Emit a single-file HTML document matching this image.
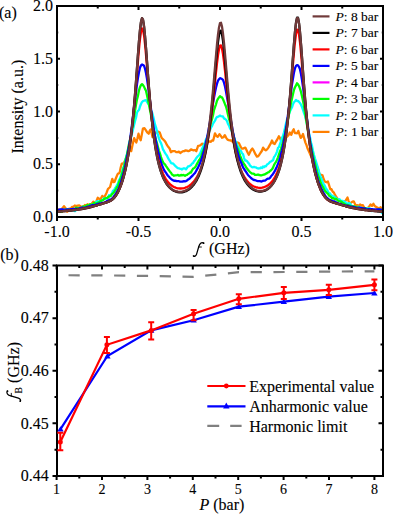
<!DOCTYPE html>
<html><head><meta charset="utf-8"><style>html,body{margin:0;padding:0;background:#fff;width:393px;height:514px;overflow:hidden;position:relative} svg text{stroke:#000;stroke-width:0.12px}</style></head>
<body>
<svg width="393" height="514" viewBox="0 0 393 514" style="position:absolute;left:0;top:0;font-family:'Liberation Serif', serif">
<rect width="393" height="514" fill="#fff"/>
<defs><clipPath id="clipa"><rect x="57.0" y="6.0" width="326.0" height="211.0"/></clipPath></defs><g clip-path="url(#clipa)"><path d="M57.0 209.9 L58.2 209.3 L59.5 210.5 L60.8 209.8 L62.1 208.6 L64.0 206.1 L65.9 208.6 L67.2 211.8 L69.1 208.6 L70.6 208.7 L72.0 207.0 L73.5 206.7 L74.8 205.5 L76.1 206.1 L77.7 205.7 L79.3 205.4 L80.8 206.4 L82.4 206.7 L83.7 207.0 L85.0 205.0 L86.3 205.4 L87.5 204.2 L88.8 204.8 L90.1 205.0 L91.4 204.2 L93.3 201.6 L95.2 203.5 L96.5 201.0 L97.7 197.8 L99.6 199.1 L100.9 198.6 L102.2 195.9 L103.5 196.9 L104.7 196.5 L106.6 192.7 L107.9 189.1 L109.0 188.0 L110.1 187.0 L111.2 182.8 L112.3 178.9 L113.4 182.2 L114.5 181.9 L116.0 178.0 L117.4 174.6 L118.5 173.3 L119.6 173.1 L120.7 167.6 L121.8 163.6 L123.2 163.6 L124.5 161.5 L125.7 159.3 L127.0 157.0 L128.0 153.8 L129.0 151.1 L130.1 151.1 L131.2 151.2 L132.7 144.0 L134.2 138.1 L135.2 140.5 L136.3 142.5 L137.4 138.6 L138.5 133.7 L139.6 137.8 L140.7 140.3 L141.8 134.6 L142.9 128.6 L144.4 128.1 L145.8 130.1 L147.2 132.4 L148.7 133.7 L149.8 130.6 L150.9 129.4 L152.5 137.0 L153.8 135.4 L155.0 134.0 L156.5 131.8 L158.0 131.6 L159.8 132.5 L161.6 137.8 L162.9 139.2 L164.3 140.5 L165.6 142.2 L166.9 144.9 L168.2 146.8 L169.6 148.5 L170.9 152.2 L172.3 151.2 L173.6 151.2 L174.9 151.2 L176.2 152.2 L177.6 152.1 L178.9 151.6 L180.3 153.0 L181.7 151.9 L183.0 151.2 L184.3 151.2 L185.6 150.3 L186.9 150.7 L188.3 151.2 L189.7 150.6 L191.0 149.4 L192.3 149.9 L193.6 150.3 L194.9 150.0 L196.3 151.2 L198.1 145.8 L199.4 145.7 L200.8 144.9 L202.2 143.7 L203.6 144.9 L205.0 143.0 L206.2 142.2 L207.3 142.7 L208.5 141.8 L209.7 141.4 L210.9 141.8 L212.0 140.4 L213.2 140.5 L215.0 133.4 L216.3 135.8 L217.7 136.9 L219.5 134.2 L220.8 135.9 L222.1 137.8 L223.4 137.3 L224.8 135.1 L226.2 137.8 L227.5 139.6 L228.8 140.1 L230.1 140.5 L231.3 140.3 L232.6 141.8 L233.8 142.0 L235.0 142.0 L236.3 143.5 L237.7 142.5 L239.0 143.2 L240.3 146.2 L241.7 148.5 L242.9 148.6 L244.1 148.1 L245.3 147.6 L246.5 150.1 L247.6 152.5 L248.8 154.7 L250.0 152.2 L251.2 149.9 L252.4 148.5 L253.9 150.9 L255.4 154.2 L256.9 156.5 L258.1 156.4 L259.2 154.9 L260.4 153.0 L261.8 151.0 L263.1 147.6 L264.5 149.5 L265.8 150.3 L267.1 149.4 L268.4 147.6 L269.6 145.4 L270.8 143.4 L272.0 140.5 L273.4 143.5 L274.7 144.0 L276.0 141.5 L277.3 139.5 L278.9 136.3 L280.0 138.2 L281.2 141.0 L282.6 140.9 L284.0 138.0 L285.2 137.6 L286.3 137.5 L287.5 136.3 L288.6 135.0 L289.8 132.5 L291.3 134.8 L292.5 131.3 L293.7 129.3 L294.9 133.0 L296.0 133.2 L297.1 133.3 L298.3 130.9 L299.5 134.5 L300.7 137.9 L301.9 136.5 L303.0 134.0 L304.2 138.4 L305.4 142.6 L306.5 145.1 L307.7 148.8 L309.1 151.8 L310.6 155.2 L312.0 158.0 L313.4 161.3 L314.9 163.6 L316.4 165.7 L317.8 168.2 L319.0 172.7 L320.1 175.3 L321.3 174.8 L322.5 175.3 L323.6 179.0 L324.8 181.5 L326.4 182.3 L327.9 181.5 L329.1 185.2 L330.3 189.3 L331.5 189.2 L332.6 191.6 L333.8 192.5 L334.9 194.7 L336.3 197.0 L337.7 198.9 L339.1 200.3 L340.5 201.0 L341.9 203.1 L343.3 203.1 L344.4 201.3 L345.4 201.0 L346.4 199.3 L347.5 197.5 L348.6 201.1 L349.6 203.8 L351.0 202.6 L352.4 201.7 L353.8 201.4 L355.2 204.5 L356.6 205.4 L358.0 205.2 L359.1 206.5 L360.1 204.5 L361.5 205.6 L362.9 205.2 L363.9 207.0 L365.0 210.1 L366.4 208.8 L367.8 208.0 L369.2 206.4 L370.6 204.5 L372.0 205.9 L373.4 203.8 L374.4 205.6 L375.5 206.6 L376.9 207.4 L378.3 208.0 L379.4 208.7 L380.4 207.3 L381.8 208.3 L383.2 209.4" fill="none" stroke="#ff8000" stroke-width="2.3" stroke-linejoin="round"/>
<path d="M57.0 211.6 L58.0 210.7 L59.0 211.6 L60.0 210.8 L61.0 211.1 L62.0 211.2 L63.0 209.8 L64.0 210.1 L65.0 210.4 L66.0 209.9 L67.0 209.4 L68.0 209.8 L69.0 209.5 L70.0 210.3 L71.0 210.2 L72.0 210.2 L73.0 210.7 L74.0 210.9 L75.0 211.1 L76.0 210.2 L77.0 209.6 L78.0 209.2 L79.0 208.7 L80.0 209.1 L81.0 208.5 L82.0 207.8 L83.0 207.0 L84.0 207.4 L85.0 207.3 L86.0 208.0 L87.0 207.4 L88.0 207.9 L89.0 207.5 L90.0 205.6 L91.0 206.4 L92.0 204.8 L93.0 204.0 L94.0 203.7 L95.0 202.9 L96.0 202.2 L97.0 201.2 L98.0 201.3 L99.0 201.3 L100.0 201.1 L101.0 201.0 L102.0 200.1 L103.0 199.8 L104.0 198.2 L105.0 198.9 L106.0 198.5 L107.0 197.9 L108.0 198.0 L109.0 195.2 L110.0 195.9 L111.0 194.5 L112.0 193.3 L113.0 190.7 L114.0 190.9 L115.0 188.2 L116.0 187.1 L117.0 185.1 L118.0 183.2 L119.0 180.2 L120.0 178.4 L121.0 175.4 L122.0 172.1 L123.0 167.8 L124.0 166.5 L125.0 161.6 L126.0 157.6 L127.0 154.4 L128.0 150.4 L129.0 146.7 L130.0 141.4 L131.0 137.4 L132.0 133.5 L133.0 129.4 L134.0 125.3 L135.0 121.2 L136.0 117.8 L137.0 112.5 L138.0 110.9 L139.0 110.0 L140.0 106.5 L141.0 104.0 L142.0 102.0 L143.0 101.1 L144.0 100.7 L145.0 100.3 L146.0 100.2 L147.0 101.8 L148.0 103.5 L149.0 104.2 L150.0 106.8 L151.0 110.7 L152.0 112.2 L153.0 115.7 L154.0 120.0 L155.0 124.4 L156.0 127.4 L157.0 131.3 L158.0 135.1 L159.0 138.6 L160.0 141.4 L161.0 143.1 L162.0 146.1 L163.0 149.5 L164.0 150.9 L165.0 152.9 L166.0 154.4 L167.0 155.7 L168.0 157.9 L169.0 159.7 L170.0 161.1 L171.0 163.1 L172.0 163.4 L173.0 163.5 L174.0 164.6 L175.0 165.7 L176.0 166.6 L177.0 167.5 L178.0 168.2 L179.0 168.4 L180.0 168.8 L181.0 168.8 L182.0 169.5 L183.0 168.6 L184.0 168.2 L185.0 168.6 L186.0 169.3 L187.0 168.0 L188.0 166.4 L189.0 166.3 L190.0 165.7 L191.0 165.1 L192.0 163.5 L193.0 163.2 L194.0 161.2 L195.0 160.4 L196.0 158.5 L197.0 157.3 L198.0 156.1 L199.0 155.4 L200.0 153.7 L201.0 151.6 L202.0 148.9 L203.0 146.7 L204.0 145.0 L205.0 142.3 L206.0 139.4 L207.0 137.4 L208.0 135.3 L209.0 133.1 L210.0 130.0 L211.0 127.5 L212.0 126.1 L213.0 123.6 L214.0 122.1 L215.0 120.7 L216.0 118.3 L217.0 116.8 L218.0 116.8 L219.0 116.2 L220.0 115.6 L221.0 116.2 L222.0 116.4 L223.0 116.4 L224.0 118.4 L225.0 118.9 L226.0 119.6 L227.0 121.1 L228.0 124.0 L229.0 125.6 L230.0 128.3 L231.0 130.0 L232.0 132.0 L233.0 134.5 L234.0 137.6 L235.0 140.3 L236.0 141.8 L237.0 144.8 L238.0 146.5 L239.0 148.3 L240.0 150.7 L241.0 151.0 L242.0 153.4 L243.0 154.1 L244.0 157.8 L245.0 160.5 L246.0 160.5 L247.0 161.2 L248.0 162.6 L249.0 163.6 L250.0 165.6 L251.0 166.3 L252.0 167.1 L253.0 167.3 L254.0 166.9 L255.0 167.3 L256.0 167.4 L257.0 168.2 L258.0 168.5 L259.0 168.4 L260.0 168.4 L261.0 167.4 L262.0 168.1 L263.0 166.5 L264.0 167.2 L265.0 166.1 L266.0 166.3 L267.0 164.5 L268.0 164.0 L269.0 163.1 L270.0 161.9 L271.0 161.5 L272.0 160.8 L273.0 160.3 L274.0 157.2 L275.0 155.8 L276.0 154.0 L277.0 151.6 L278.0 147.9 L279.0 147.0 L280.0 143.9 L281.0 141.2 L282.0 137.7 L283.0 135.8 L284.0 132.2 L285.0 127.9 L286.0 123.5 L287.0 119.4 L288.0 117.3 L289.0 114.1 L290.0 111.1 L291.0 109.2 L292.0 107.3 L293.0 104.1 L294.0 102.3 L295.0 101.3 L296.0 100.0 L297.0 101.0 L298.0 100.9 L299.0 101.8 L300.0 103.2 L301.0 104.7 L302.0 107.0 L303.0 109.8 L304.0 113.1 L305.0 115.6 L306.0 120.3 L307.0 124.1 L308.0 128.4 L309.0 133.4 L310.0 137.3 L311.0 142.5 L312.0 145.9 L313.0 150.9 L314.0 155.1 L315.0 158.6 L316.0 161.7 L317.0 164.9 L318.0 168.1 L319.0 171.8 L320.0 175.5 L321.0 177.7 L322.0 180.1 L323.0 183.1 L324.0 184.4 L325.0 186.3 L326.0 188.7 L327.0 189.6 L328.0 191.8 L329.0 193.1 L330.0 193.4 L331.0 195.2 L332.0 195.5 L333.0 196.8 L334.0 196.5 L335.0 197.5 L336.0 197.8 L337.0 199.2 L338.0 199.6 L339.0 199.2 L340.0 199.5 L341.0 201.4 L342.0 201.0 L343.0 201.0 L344.0 202.0 L345.0 201.6 L346.0 203.2 L347.0 203.6 L348.0 203.3 L349.0 203.2 L350.0 203.3 L351.0 205.0 L352.0 206.6 L353.0 206.2 L354.0 207.3 L355.0 207.2 L356.0 208.0 L357.0 207.1 L358.0 206.9 L359.0 207.0 L360.0 207.5 L361.0 207.9 L362.0 208.4 L363.0 208.4 L364.0 208.5 L365.0 208.5 L366.0 209.2 L367.0 208.2 L368.0 208.7 L369.0 208.4 L370.0 208.3 L371.0 209.7 L372.0 211.1 L373.0 210.0 L374.0 210.5 L375.0 210.6 L376.0 210.9 L377.0 210.9 L378.0 211.7 L379.0 211.6 L380.0 211.8 L381.0 211.6 L382.0 213.1 L383.0 211.9" fill="none" stroke="#00ffff" stroke-width="2.3" stroke-linejoin="round"/>
<path d="M57.0 211.3 L58.0 211.5 L59.0 210.8 L60.0 211.6 L61.0 211.1 L62.0 211.7 L63.0 210.5 L64.0 210.2 L65.0 209.5 L66.0 209.9 L67.0 209.6 L68.0 209.7 L69.0 209.9 L70.0 209.6 L71.0 209.9 L72.0 209.7 L73.0 209.0 L74.0 208.9 L75.0 208.9 L76.0 207.7 L77.0 207.9 L78.0 208.2 L79.0 208.0 L80.0 208.0 L81.0 207.9 L82.0 207.7 L83.0 206.5 L84.0 206.6 L85.0 206.4 L86.0 206.0 L87.0 205.1 L88.0 205.4 L89.0 205.6 L90.0 204.3 L91.0 205.0 L92.0 204.8 L93.0 204.1 L94.0 202.9 L95.0 203.4 L96.0 204.1 L97.0 203.0 L98.0 202.7 L99.0 202.2 L100.0 201.5 L101.0 200.9 L102.0 200.4 L103.0 200.2 L104.0 199.2 L105.0 198.3 L106.0 198.2 L107.0 198.1 L108.0 197.2 L109.0 196.5 L110.0 196.4 L111.0 195.7 L112.0 194.2 L113.0 193.3 L114.0 192.2 L115.0 190.6 L116.0 189.0 L117.0 187.1 L118.0 185.9 L119.0 182.4 L120.0 179.9 L121.0 177.6 L122.0 174.0 L123.0 170.7 L124.0 167.3 L125.0 163.1 L126.0 158.3 L127.0 154.2 L128.0 149.3 L129.0 143.9 L130.0 139.8 L131.0 134.7 L132.0 128.7 L133.0 123.6 L134.0 117.5 L135.0 110.8 L136.0 104.8 L137.0 99.4 L138.0 95.6 L139.0 90.3 L140.0 87.2 L141.0 85.0 L142.0 84.1 L143.0 85.1 L144.0 86.6 L145.0 88.9 L146.0 90.8 L147.0 95.3 L148.0 99.9 L149.0 105.0 L150.0 109.9 L151.0 115.1 L152.0 120.4 L153.0 126.2 L154.0 132.2 L155.0 136.1 L156.0 140.0 L157.0 143.3 L158.0 147.2 L159.0 150.8 L160.0 153.6 L161.0 157.1 L162.0 159.8 L163.0 162.1 L164.0 163.6 L165.0 164.4 L166.0 166.1 L167.0 167.4 L168.0 169.0 L169.0 170.3 L170.0 171.7 L171.0 172.7 L172.0 174.5 L173.0 175.1 L174.0 175.8 L175.0 175.4 L176.0 175.3 L177.0 175.2 L178.0 175.0 L179.0 175.7 L180.0 175.5 L181.0 174.9 L182.0 175.4 L183.0 175.0 L184.0 175.2 L185.0 175.8 L186.0 175.1 L187.0 174.9 L188.0 174.0 L189.0 173.5 L190.0 172.5 L191.0 172.5 L192.0 170.3 L193.0 168.8 L194.0 168.1 L195.0 167.3 L196.0 165.8 L197.0 163.9 L198.0 162.1 L199.0 160.2 L200.0 159.1 L201.0 157.0 L202.0 153.7 L203.0 151.0 L204.0 148.8 L205.0 145.9 L206.0 142.9 L207.0 139.4 L208.0 134.8 L209.0 131.0 L210.0 126.5 L211.0 122.5 L212.0 119.1 L213.0 115.2 L214.0 110.1 L215.0 107.1 L216.0 104.3 L217.0 100.8 L218.0 98.8 L219.0 97.4 L220.0 96.1 L221.0 97.1 L222.0 97.4 L223.0 99.2 L224.0 101.6 L225.0 104.2 L226.0 106.5 L227.0 110.2 L228.0 114.8 L229.0 118.9 L230.0 122.0 L231.0 125.7 L232.0 130.4 L233.0 133.1 L234.0 137.4 L235.0 141.6 L236.0 144.8 L237.0 147.4 L238.0 149.7 L239.0 152.3 L240.0 155.3 L241.0 158.0 L242.0 160.7 L243.0 162.3 L244.0 164.1 L245.0 165.3 L246.0 167.2 L247.0 168.5 L248.0 169.8 L249.0 171.0 L250.0 172.1 L251.0 172.9 L252.0 173.7 L253.0 173.6 L254.0 173.9 L255.0 174.9 L256.0 174.8 L257.0 174.9 L258.0 174.5 L259.0 175.0 L260.0 175.2 L261.0 175.5 L262.0 175.2 L263.0 174.8 L264.0 174.5 L265.0 174.3 L266.0 173.6 L267.0 173.1 L268.0 172.4 L269.0 172.1 L270.0 171.0 L271.0 170.3 L272.0 169.3 L273.0 167.6 L274.0 165.1 L275.0 163.3 L276.0 161.8 L277.0 160.0 L278.0 157.3 L279.0 154.4 L280.0 151.4 L281.0 148.8 L282.0 145.5 L283.0 142.0 L284.0 138.1 L285.0 134.0 L286.0 129.2 L287.0 125.0 L288.0 119.8 L289.0 113.8 L290.0 108.6 L291.0 102.9 L292.0 98.5 L293.0 93.9 L294.0 89.7 L295.0 87.2 L296.0 85.4 L297.0 83.3 L298.0 84.3 L299.0 86.0 L300.0 88.6 L301.0 91.9 L302.0 96.2 L303.0 100.7 L304.0 106.1 L305.0 112.4 L306.0 118.6 L307.0 125.1 L308.0 131.4 L309.0 136.9 L310.0 141.7 L311.0 146.7 L312.0 151.2 L313.0 155.5 L314.0 160.2 L315.0 163.4 L316.0 167.9 L317.0 171.8 L318.0 175.2 L319.0 177.6 L320.0 180.5 L321.0 183.4 L322.0 185.4 L323.0 187.0 L324.0 189.1 L325.0 191.0 L326.0 191.9 L327.0 193.0 L328.0 193.9 L329.0 195.5 L330.0 196.3 L331.0 196.9 L332.0 198.4 L333.0 198.1 L334.0 198.7 L335.0 199.4 L336.0 198.8 L337.0 199.7 L338.0 200.7 L339.0 201.1 L340.0 201.3 L341.0 201.5 L342.0 202.2 L343.0 203.1 L344.0 203.6 L345.0 204.2 L346.0 204.8 L347.0 204.8 L348.0 205.2 L349.0 205.3 L350.0 205.8 L351.0 206.3 L352.0 206.4 L353.0 206.6 L354.0 206.2 L355.0 207.0 L356.0 207.0 L357.0 207.3 L358.0 208.0 L359.0 207.7 L360.0 207.8 L361.0 208.9 L362.0 208.5 L363.0 208.1 L364.0 208.8 L365.0 208.1 L366.0 208.5 L367.0 209.3 L368.0 209.1 L369.0 209.5 L370.0 210.1 L371.0 210.9 L372.0 210.3 L373.0 210.5 L374.0 210.0 L375.0 209.9 L376.0 210.3 L377.0 210.6 L378.0 209.8 L379.0 209.4 L380.0 209.7 L381.0 210.3 L382.0 211.0 L383.0 211.1" fill="none" stroke="#00ff00" stroke-width="2.3" stroke-linejoin="round"/>
<path d="M57.0 210.2 L58.0 210.1 L59.0 209.7 L60.0 209.4 L61.0 209.3 L62.0 209.5 L63.0 209.5 L64.0 209.6 L65.0 209.8 L66.0 209.7 L67.0 209.3 L68.0 209.3 L69.0 209.3 L70.0 209.4 L71.0 209.2 L72.0 209.2 L73.0 209.0 L74.0 208.8 L75.0 209.2 L76.0 208.9 L77.0 208.9 L78.0 208.8 L79.0 208.7 L80.0 208.1 L81.0 207.8 L82.0 207.7 L83.0 207.7 L84.0 207.8 L85.0 207.6 L86.0 207.3 L87.0 207.0 L88.0 206.7 L89.0 206.6 L90.0 206.0 L91.0 205.8 L92.0 205.2 L93.0 205.2 L94.0 205.2 L95.0 205.1 L96.0 204.6 L97.0 204.2 L98.0 204.0 L99.0 203.7 L100.0 203.5 L101.0 203.3 L102.0 203.0 L103.0 203.0 L104.0 202.7 L105.0 202.2 L106.0 201.7 L107.0 201.0 L108.0 200.5 L109.0 200.1 L110.0 199.6 L111.0 199.4 L112.0 198.5 L113.0 197.6 L114.0 196.2 L115.0 194.9 L116.0 193.4 L117.0 191.7 L118.0 189.7 L119.0 187.8 L120.0 185.3 L121.0 182.0 L122.0 178.7 L123.0 175.4 L124.0 171.6 L125.0 167.4 L126.0 162.1 L127.0 157.2 L128.0 151.9 L129.0 146.1 L130.0 140.0 L131.0 132.6 L132.0 124.6 L133.0 116.4 L134.0 108.1 L135.0 100.0 L136.0 92.0 L137.0 84.2 L138.0 77.5 L139.0 72.1 L140.0 67.6 L141.0 65.4 L142.0 64.5 L143.0 65.0 L144.0 65.7 L145.0 68.6 L146.0 73.1 L147.0 78.8 L148.0 85.8 L149.0 93.4 L150.0 101.0 L151.0 109.0 L152.0 116.5 L153.0 123.4 L154.0 130.1 L155.0 136.1 L156.0 141.6 L157.0 146.5 L158.0 151.2 L159.0 155.3 L160.0 159.2 L161.0 162.3 L162.0 165.2 L163.0 167.6 L164.0 169.9 L165.0 171.6 L166.0 172.7 L167.0 174.5 L168.0 175.7 L169.0 176.8 L170.0 178.0 L171.0 178.9 L172.0 179.7 L173.0 180.2 L174.0 180.8 L175.0 180.6 L176.0 181.0 L177.0 181.2 L178.0 181.1 L179.0 181.2 L180.0 181.6 L181.0 181.6 L182.0 181.6 L183.0 181.5 L184.0 181.1 L185.0 181.3 L186.0 181.1 L187.0 180.5 L188.0 179.6 L189.0 179.0 L190.0 178.3 L191.0 177.1 L192.0 176.1 L193.0 175.1 L194.0 174.0 L195.0 173.0 L196.0 171.2 L197.0 169.4 L198.0 167.7 L199.0 165.4 L200.0 163.2 L201.0 160.6 L202.0 158.0 L203.0 154.4 L204.0 151.0 L205.0 146.9 L206.0 142.6 L207.0 138.0 L208.0 132.9 L209.0 127.5 L210.0 121.8 L211.0 115.7 L212.0 109.7 L213.0 103.4 L214.0 97.6 L215.0 92.4 L216.0 87.5 L217.0 83.7 L218.0 80.6 L219.0 79.3 L220.0 78.2 L221.0 78.5 L222.0 79.1 L223.0 79.9 L224.0 82.7 L225.0 86.4 L226.0 91.4 L227.0 97.0 L228.0 102.7 L229.0 108.7 L230.0 114.8 L231.0 120.9 L232.0 126.8 L233.0 132.3 L234.0 137.0 L235.0 141.8 L236.0 146.3 L237.0 150.3 L238.0 154.0 L239.0 157.5 L240.0 160.2 L241.0 162.4 L242.0 164.8 L243.0 167.3 L244.0 168.8 L245.0 170.6 L246.0 171.8 L247.0 173.4 L248.0 175.0 L249.0 176.0 L250.0 177.0 L251.0 178.0 L252.0 178.8 L253.0 179.4 L254.0 180.0 L255.0 180.2 L256.0 180.5 L257.0 180.9 L258.0 181.2 L259.0 181.1 L260.0 181.2 L261.0 181.5 L262.0 181.3 L263.0 180.8 L264.0 180.6 L265.0 180.6 L266.0 179.9 L267.0 179.0 L268.0 178.6 L269.0 178.6 L270.0 177.9 L271.0 176.3 L272.0 175.3 L273.0 173.9 L274.0 172.3 L275.0 170.7 L276.0 168.5 L277.0 166.4 L278.0 163.9 L279.0 161.1 L280.0 158.0 L281.0 153.9 L282.0 150.3 L283.0 146.0 L284.0 140.6 L285.0 135.2 L286.0 128.8 L287.0 122.2 L288.0 114.6 L289.0 107.0 L290.0 99.0 L291.0 91.6 L292.0 84.3 L293.0 78.2 L294.0 72.4 L295.0 68.3 L296.0 65.9 L297.0 65.1 L298.0 65.4 L299.0 66.8 L300.0 69.2 L301.0 74.0 L302.0 80.0 L303.0 86.8 L304.0 94.6 L305.0 103.0 L306.0 111.0 L307.0 119.0 L308.0 127.2 L309.0 134.4 L310.0 141.8 L311.0 147.8 L312.0 154.2 L313.0 159.3 L314.0 164.2 L315.0 168.7 L316.0 172.6 L317.0 176.5 L318.0 180.0 L319.0 183.1 L320.0 185.4 L321.0 188.0 L322.0 190.1 L323.0 192.2 L324.0 193.6 L325.0 195.4 L326.0 196.8 L327.0 197.9 L328.0 198.7 L329.0 199.6 L330.0 200.0 L331.0 200.4 L332.0 200.7 L333.0 201.1 L334.0 201.3 L335.0 201.9 L336.0 202.4 L337.0 202.9 L338.0 203.3 L339.0 203.8 L340.0 203.8 L341.0 204.0 L342.0 204.7 L343.0 204.8 L344.0 205.2 L345.0 205.5 L346.0 205.7 L347.0 205.6 L348.0 205.8 L349.0 206.5 L350.0 206.5 L351.0 206.9 L352.0 206.6 L353.0 207.0 L354.0 207.2 L355.0 207.4 L356.0 207.7 L357.0 207.9 L358.0 208.0 L359.0 207.6 L360.0 207.9 L361.0 208.0 L362.0 208.2 L363.0 208.4 L364.0 208.5 L365.0 208.3 L366.0 209.2 L367.0 209.3 L368.0 209.4 L369.0 209.1 L370.0 209.4 L371.0 209.2 L372.0 209.1 L373.0 209.4 L374.0 209.4 L375.0 209.6 L376.0 209.5 L377.0 209.5 L378.0 209.4 L379.0 209.4 L380.0 209.9 L381.0 209.6 L382.0 209.8 L383.0 209.7" fill="none" stroke="#0000ff" stroke-width="2.3" stroke-linejoin="round"/>
<path d="M57.0 211.5 L58.0 211.4 L59.0 211.4 L60.0 211.3 L61.0 211.2 L62.0 211.1 L63.0 211.1 L64.0 211.0 L65.0 210.9 L66.0 210.8 L67.0 210.7 L68.0 210.6 L69.0 210.5 L70.0 210.4 L71.0 210.3 L72.0 210.2 L73.0 210.1 L74.0 210.0 L75.0 209.8 L76.0 209.7 L77.0 209.6 L78.0 209.4 L79.0 209.3 L80.0 209.2 L81.0 209.0 L82.0 208.8 L83.0 208.7 L84.0 208.5 L85.0 208.3 L86.0 208.1 L87.0 207.9 L88.0 207.7 L89.0 207.4 L90.0 207.2 L91.0 207.0 L92.0 206.7 L93.0 206.4 L94.0 206.2 L95.0 205.9 L96.0 205.6 L97.0 205.3 L98.0 205.0 L99.0 204.7 L100.0 204.4 L101.0 204.1 L102.0 203.8 L103.0 203.5 L104.0 203.2 L105.0 202.9 L106.0 202.6 L107.0 202.3 L108.0 201.9 L109.0 201.5 L110.0 201.0 L111.0 200.4 L112.0 199.7 L113.0 198.9 L114.0 197.9 L115.0 196.7 L116.0 195.3 L117.0 193.7 L118.0 191.9 L119.0 189.8 L120.0 187.5 L121.0 184.8 L122.0 181.9 L123.0 178.7 L124.0 175.1 L125.0 171.1 L126.0 166.8 L127.0 161.9 L128.0 156.5 L129.0 150.5 L130.0 143.8 L131.0 136.3 L132.0 127.9 L133.0 118.7 L134.0 108.4 L135.0 97.3 L136.0 85.3 L137.0 72.9 L138.0 60.5 L139.0 48.9 L140.0 38.9 L141.0 31.8 L142.0 28.4 L143.0 29.7 L144.0 35.2 L145.0 43.9 L146.0 54.7 L147.0 66.6 L148.0 78.7 L149.0 90.6 L150.0 101.7 L151.0 111.9 L152.0 121.2 L153.0 129.4 L154.0 136.7 L155.0 143.2 L156.0 148.9 L157.0 153.9 L158.0 158.3 L159.0 162.2 L160.0 165.6 L161.0 168.7 L162.0 171.3 L163.0 173.7 L164.0 175.8 L165.0 177.6 L166.0 179.3 L167.0 180.7 L168.0 182.0 L169.0 183.1 L170.0 184.1 L171.0 185.0 L172.0 185.8 L173.0 186.4 L174.0 187.0 L175.0 187.4 L176.0 187.8 L177.0 188.1 L178.0 188.3 L179.0 188.4 L180.0 188.5 L181.0 188.5 L182.0 188.4 L183.0 188.3 L184.0 188.1 L185.0 187.8 L186.0 187.4 L187.0 187.0 L188.0 186.5 L189.0 185.9 L190.0 185.1 L191.0 184.3 L192.0 183.4 L193.0 182.4 L194.0 181.2 L195.0 179.9 L196.0 178.5 L197.0 176.8 L198.0 175.0 L199.0 173.0 L200.0 170.7 L201.0 168.1 L202.0 165.3 L203.0 162.1 L204.0 158.5 L205.0 154.5 L206.0 150.0 L207.0 145.0 L208.0 139.3 L209.0 133.1 L210.0 126.1 L211.0 118.5 L212.0 110.1 L213.0 101.1 L214.0 91.6 L215.0 81.8 L216.0 72.1 L217.0 63.0 L218.0 55.1 L219.0 49.2 L220.0 45.7 L221.0 45.5 L222.0 48.5 L223.0 54.1 L224.0 61.8 L225.0 70.7 L226.0 80.3 L227.0 90.1 L228.0 99.7 L229.0 108.8 L230.0 117.2 L231.0 125.0 L232.0 132.1 L233.0 138.4 L234.0 144.1 L235.0 149.2 L236.0 153.8 L237.0 157.8 L238.0 161.5 L239.0 164.7 L240.0 167.6 L241.0 170.2 L242.0 172.5 L243.0 174.5 L244.0 176.4 L245.0 178.0 L246.0 179.5 L247.0 180.8 L248.0 181.9 L249.0 183.0 L250.0 183.9 L251.0 184.7 L252.0 185.4 L253.0 186.0 L254.0 186.5 L255.0 186.9 L256.0 187.3 L257.0 187.5 L258.0 187.7 L259.0 187.8 L260.0 187.8 L261.0 187.8 L262.0 187.7 L263.0 187.5 L264.0 187.2 L265.0 186.8 L266.0 186.4 L267.0 185.8 L268.0 185.2 L269.0 184.4 L270.0 183.6 L271.0 182.6 L272.0 181.4 L273.0 180.1 L274.0 178.6 L275.0 177.0 L276.0 175.1 L277.0 172.9 L278.0 170.5 L279.0 167.8 L280.0 164.6 L281.0 161.1 L282.0 157.1 L283.0 152.6 L284.0 147.4 L285.0 141.5 L286.0 134.9 L287.0 127.3 L288.0 118.8 L289.0 109.4 L290.0 98.9 L291.0 87.6 L292.0 75.7 L293.0 63.6 L294.0 52.0 L295.0 41.8 L296.0 34.0 L297.0 29.7 L298.0 29.8 L299.0 34.3 L300.0 42.4 L301.0 52.8 L302.0 64.7 L303.0 77.1 L304.0 89.4 L305.0 101.1 L306.0 111.9 L307.0 121.8 L308.0 130.7 L309.0 138.8 L310.0 146.0 L311.0 152.4 L312.0 158.2 L313.0 163.4 L314.0 168.1 L315.0 172.4 L316.0 176.2 L317.0 179.7 L318.0 182.8 L319.0 185.6 L320.0 188.2 L321.0 190.5 L322.0 192.5 L323.0 194.3 L324.0 195.8 L325.0 197.2 L326.0 198.3 L327.0 199.3 L328.0 200.1 L329.0 200.7 L330.0 201.3 L331.0 201.8 L332.0 202.2 L333.0 202.5 L334.0 202.8 L335.0 203.1 L336.0 203.4 L337.0 203.7 L338.0 204.0 L339.0 204.2 L340.0 204.5 L341.0 204.8 L342.0 205.1 L343.0 205.4 L344.0 205.7 L345.0 206.0 L346.0 206.3 L347.0 206.5 L348.0 206.8 L349.0 207.0 L350.0 207.3 L351.0 207.5 L352.0 207.7 L353.0 208.0 L354.0 208.2 L355.0 208.3 L356.0 208.5 L357.0 208.7 L358.0 208.9 L359.0 209.0 L360.0 209.2 L361.0 209.3 L362.0 209.5 L363.0 209.6 L364.0 209.8 L365.0 209.9 L366.0 210.0 L367.0 210.1 L368.0 210.2 L369.0 210.3 L370.0 210.4 L371.0 210.6 L372.0 210.6 L373.0 210.7 L374.0 210.8 L375.0 210.9 L376.0 211.0 L377.0 211.1 L378.0 211.2 L379.0 211.2 L380.0 211.3 L381.0 211.4 L382.0 211.5 L383.0 211.5" fill="none" stroke="#ff0000" stroke-width="2.3" stroke-linejoin="round"/>
<path d="M57.0 211.7 L58.0 211.6 L59.0 211.6 L60.0 211.5 L61.0 211.4 L62.0 211.3 L63.0 211.2 L64.0 211.2 L65.0 211.1 L66.0 211.0 L67.0 210.9 L68.0 210.8 L69.0 210.7 L70.0 210.6 L71.0 210.5 L72.0 210.4 L73.0 210.2 L74.0 210.1 L75.0 210.0 L76.0 209.9 L77.0 209.7 L78.0 209.6 L79.0 209.4 L80.0 209.3 L81.0 209.1 L82.0 209.0 L83.0 208.8 L84.0 208.6 L85.0 208.4 L86.0 208.2 L87.0 208.0 L88.0 207.8 L89.0 207.5 L90.0 207.3 L91.0 207.0 L92.0 206.8 L93.0 206.5 L94.0 206.2 L95.0 205.9 L96.0 205.6 L97.0 205.3 L98.0 205.0 L99.0 204.7 L100.0 204.4 L101.0 204.1 L102.0 203.8 L103.0 203.5 L104.0 203.2 L105.0 202.9 L106.0 202.6 L107.0 202.3 L108.0 201.9 L109.0 201.5 L110.0 201.0 L111.0 200.5 L112.0 199.8 L113.0 199.0 L114.0 198.0 L115.0 196.8 L116.0 195.5 L117.0 193.9 L118.0 192.1 L119.0 190.0 L120.0 187.7 L121.0 185.1 L122.0 182.3 L123.0 179.1 L124.0 175.5 L125.0 171.6 L126.0 167.2 L127.0 162.3 L128.0 156.9 L129.0 150.7 L130.0 143.8 L131.0 136.1 L132.0 127.3 L133.0 117.5 L134.0 106.6 L135.0 94.6 L136.0 81.6 L137.0 68.0 L138.0 54.2 L139.0 41.2 L140.0 30.1 L141.0 22.0 L142.0 18.2 L143.0 19.8 L144.0 26.1 L145.0 36.0 L146.0 48.2 L147.0 61.6 L148.0 75.1 L149.0 88.2 L150.0 100.4 L151.0 111.5 L152.0 121.5 L153.0 130.4 L154.0 138.2 L155.0 145.1 L156.0 151.1 L157.0 156.4 L158.0 161.1 L159.0 165.2 L160.0 168.8 L161.0 171.9 L162.0 174.7 L163.0 177.2 L164.0 179.4 L165.0 181.3 L166.0 183.0 L167.0 184.5 L168.0 185.8 L169.0 187.0 L170.0 188.0 L171.0 188.9 L172.0 189.6 L173.0 190.3 L174.0 190.9 L175.0 191.3 L176.0 191.7 L177.0 192.0 L178.0 192.2 L179.0 192.3 L180.0 192.4 L181.0 192.4 L182.0 192.3 L183.0 192.1 L184.0 191.8 L185.0 191.5 L186.0 191.1 L187.0 190.6 L188.0 190.0 L189.0 189.4 L190.0 188.6 L191.0 187.7 L192.0 186.7 L193.0 185.6 L194.0 184.4 L195.0 182.9 L196.0 181.4 L197.0 179.6 L198.0 177.6 L199.0 175.4 L200.0 172.9 L201.0 170.1 L202.0 167.0 L203.0 163.5 L204.0 159.6 L205.0 155.2 L206.0 150.3 L207.0 144.7 L208.0 138.5 L209.0 131.5 L210.0 123.7 L211.0 115.1 L212.0 105.6 L213.0 95.4 L214.0 84.5 L215.0 73.2 L216.0 62.0 L217.0 51.4 L218.0 42.1 L219.0 35.1 L220.0 31.0 L221.0 30.7 L222.0 34.3 L223.0 40.9 L224.0 49.9 L225.0 60.4 L226.0 71.6 L227.0 82.9 L228.0 93.8 L229.0 104.2 L230.0 113.7 L231.0 122.5 L232.0 130.3 L233.0 137.4 L234.0 143.7 L235.0 149.4 L236.0 154.4 L237.0 158.9 L238.0 162.8 L239.0 166.4 L240.0 169.5 L241.0 172.3 L242.0 174.8 L243.0 177.1 L244.0 179.1 L245.0 180.8 L246.0 182.4 L247.0 183.8 L248.0 185.1 L249.0 186.2 L250.0 187.2 L251.0 188.1 L252.0 188.8 L253.0 189.5 L254.0 190.0 L255.0 190.5 L256.0 190.9 L257.0 191.2 L258.0 191.4 L259.0 191.5 L260.0 191.5 L261.0 191.5 L262.0 191.4 L263.0 191.2 L264.0 190.9 L265.0 190.6 L266.0 190.1 L267.0 189.5 L268.0 188.9 L269.0 188.1 L270.0 187.2 L271.0 186.1 L272.0 184.9 L273.0 183.6 L274.0 182.0 L275.0 180.3 L276.0 178.3 L277.0 176.0 L278.0 173.5 L279.0 170.6 L280.0 167.3 L281.0 163.6 L282.0 159.3 L283.0 154.4 L284.0 148.9 L285.0 142.6 L286.0 135.4 L287.0 127.3 L288.0 118.0 L289.0 107.7 L290.0 96.2 L291.0 83.6 L292.0 70.3 L293.0 56.6 L294.0 43.4 L295.0 31.7 L296.0 22.7 L297.0 17.6 L298.0 17.7 L299.0 22.9 L300.0 32.0 L301.0 43.9 L302.0 57.3 L303.0 71.1 L304.0 84.7 L305.0 97.5 L306.0 109.3 L307.0 119.9 L308.0 129.4 L309.0 137.9 L310.0 145.4 L311.0 152.1 L312.0 158.1 L313.0 163.4 L314.0 168.1 L315.0 172.4 L316.0 176.2 L317.0 179.7 L318.0 182.8 L319.0 185.6 L320.0 188.2 L321.0 190.4 L322.0 192.4 L323.0 194.2 L324.0 195.7 L325.0 197.1 L326.0 198.2 L327.0 199.1 L328.0 199.9 L329.0 200.6 L330.0 201.2 L331.0 201.6 L332.0 202.0 L333.0 202.4 L334.0 202.7 L335.0 203.0 L336.0 203.3 L337.0 203.6 L338.0 203.9 L339.0 204.2 L340.0 204.5 L341.0 204.8 L342.0 205.1 L343.0 205.4 L344.0 205.7 L345.0 206.0 L346.0 206.3 L347.0 206.5 L348.0 206.8 L349.0 207.1 L350.0 207.3 L351.0 207.6 L352.0 207.8 L353.0 208.0 L354.0 208.2 L355.0 208.4 L356.0 208.6 L357.0 208.8 L358.0 209.0 L359.0 209.1 L360.0 209.3 L361.0 209.4 L362.0 209.6 L363.0 209.7 L364.0 209.9 L365.0 210.0 L366.0 210.1 L367.0 210.2 L368.0 210.4 L369.0 210.5 L370.0 210.6 L371.0 210.7 L372.0 210.8 L373.0 210.9 L374.0 211.0 L375.0 211.1 L376.0 211.2 L377.0 211.2 L378.0 211.3 L379.0 211.4 L380.0 211.5 L381.0 211.6 L382.0 211.6 L383.0 211.7" fill="none" stroke="#000000" stroke-width="2.3" stroke-linejoin="round"/>
<path d="M57.0 211.7 L58.0 211.6 L59.0 211.5 L60.0 211.4 L61.0 211.4 L62.0 211.3 L63.0 211.2 L64.0 211.1 L65.0 211.0 L66.0 210.9 L67.0 210.8 L68.0 210.7 L69.0 210.6 L70.0 210.5 L71.0 210.4 L72.0 210.3 L73.0 210.2 L74.0 210.1 L75.0 210.0 L76.0 209.8 L77.0 209.7 L78.0 209.5 L79.0 209.4 L80.0 209.2 L81.0 209.1 L82.0 208.9 L83.0 208.7 L84.0 208.5 L85.0 208.3 L86.0 208.1 L87.0 207.9 L88.0 207.7 L89.0 207.5 L90.0 207.2 L91.0 207.0 L92.0 206.7 L93.0 206.5 L94.0 206.2 L95.0 205.9 L96.0 205.6 L97.0 205.3 L98.0 205.0 L99.0 204.7 L100.0 204.4 L101.0 204.1 L102.0 203.8 L103.0 203.5 L104.0 203.2 L105.0 202.9 L106.0 202.6 L107.0 202.2 L108.0 201.9 L109.0 201.4 L110.0 201.0 L111.0 200.4 L112.0 199.7 L113.0 198.9 L114.0 197.9 L115.0 196.7 L116.0 195.4 L117.0 193.8 L118.0 192.0 L119.0 189.9 L120.0 187.6 L121.0 185.1 L122.0 182.2 L123.0 179.0 L124.0 175.4 L125.0 171.5 L126.0 167.1 L127.0 162.2 L128.0 156.7 L129.0 150.6 L130.0 143.7 L131.0 135.9 L132.0 127.2 L133.0 117.4 L134.0 106.5 L135.0 94.5 L136.0 81.5 L137.0 67.8 L138.0 54.1 L139.0 41.1 L140.0 29.9 L141.0 21.9 L142.0 18.1 L143.0 19.6 L144.0 25.9 L145.0 35.8 L146.0 48.0 L147.0 61.4 L148.0 74.9 L149.0 88.0 L150.0 100.2 L151.0 111.3 L152.0 121.3 L153.0 130.2 L154.0 138.0 L155.0 144.9 L156.0 150.9 L157.0 156.2 L158.0 160.9 L159.0 165.0 L160.0 168.5 L161.0 171.7 L162.0 174.5 L163.0 176.9 L164.0 179.1 L165.0 181.0 L166.0 182.7 L167.0 184.2 L168.0 185.5 L169.0 186.6 L170.0 187.6 L171.0 188.5 L172.0 189.3 L173.0 189.9 L174.0 190.5 L175.0 190.9 L176.0 191.3 L177.0 191.5 L178.0 191.7 L179.0 191.8 L180.0 191.9 L181.0 191.8 L182.0 191.7 L183.0 191.5 L184.0 191.2 L185.0 190.9 L186.0 190.4 L187.0 189.9 L188.0 189.3 L189.0 188.6 L190.0 187.8 L191.0 186.8 L192.0 185.8 L193.0 184.6 L194.0 183.3 L195.0 181.8 L196.0 180.2 L197.0 178.3 L198.0 176.2 L199.0 173.9 L200.0 171.3 L201.0 168.4 L202.0 165.2 L203.0 161.5 L204.0 157.4 L205.0 152.8 L206.0 147.6 L207.0 141.8 L208.0 135.3 L209.0 128.0 L210.0 119.9 L211.0 110.9 L212.0 101.1 L213.0 90.4 L214.0 79.0 L215.0 67.2 L216.0 55.5 L217.0 44.4 L218.0 34.7 L219.0 27.4 L220.0 23.1 L221.0 22.8 L222.0 26.6 L223.0 33.5 L224.0 42.9 L225.0 53.8 L226.0 65.5 L227.0 77.3 L228.0 88.7 L229.0 99.5 L230.0 109.5 L231.0 118.6 L232.0 126.9 L233.0 134.2 L234.0 140.8 L235.0 146.7 L236.0 152.0 L237.0 156.6 L238.0 160.8 L239.0 164.5 L240.0 167.8 L241.0 170.7 L242.0 173.3 L243.0 175.7 L244.0 177.8 L245.0 179.6 L246.0 181.3 L247.0 182.8 L248.0 184.1 L249.0 185.3 L250.0 186.3 L251.0 187.2 L252.0 188.0 L253.0 188.7 L254.0 189.3 L255.0 189.8 L256.0 190.2 L257.0 190.6 L258.0 190.8 L259.0 191.0 L260.0 191.0 L261.0 191.0 L262.0 191.0 L263.0 190.8 L264.0 190.5 L265.0 190.2 L266.0 189.7 L267.0 189.2 L268.0 188.5 L269.0 187.8 L270.0 186.9 L271.0 185.9 L272.0 184.7 L273.0 183.4 L274.0 181.8 L275.0 180.1 L276.0 178.1 L277.0 175.9 L278.0 173.4 L279.0 170.5 L280.0 167.2 L281.0 163.5 L282.0 159.2 L283.0 154.4 L284.0 148.9 L285.0 142.6 L286.0 135.5 L287.0 127.4 L288.0 118.2 L289.0 107.8 L290.0 96.4 L291.0 83.9 L292.0 70.6 L293.0 57.0 L294.0 43.8 L295.0 32.2 L296.0 23.2 L297.0 18.2 L298.0 18.2 L299.0 23.4 L300.0 32.5 L301.0 44.4 L302.0 57.7 L303.0 71.5 L304.0 85.0 L305.0 97.8 L306.0 109.5 L307.0 120.1 L308.0 129.6 L309.0 138.1 L310.0 145.6 L311.0 152.2 L312.0 158.2 L313.0 163.5 L314.0 168.2 L315.0 172.5 L316.0 176.3 L317.0 179.7 L318.0 182.8 L319.0 185.6 L320.0 188.2 L321.0 190.4 L322.0 192.4 L323.0 194.2 L324.0 195.7 L325.0 197.0 L326.0 198.2 L327.0 199.1 L328.0 199.9 L329.0 200.6 L330.0 201.1 L331.0 201.6 L332.0 202.0 L333.0 202.4 L334.0 202.7 L335.0 203.0 L336.0 203.3 L337.0 203.6 L338.0 203.8 L339.0 204.1 L340.0 204.4 L341.0 204.7 L342.0 205.0 L343.0 205.3 L344.0 205.6 L345.0 205.9 L346.0 206.2 L347.0 206.5 L348.0 206.8 L349.0 207.0 L350.0 207.3 L351.0 207.5 L352.0 207.7 L353.0 208.0 L354.0 208.2 L355.0 208.4 L356.0 208.6 L357.0 208.7 L358.0 208.9 L359.0 209.1 L360.0 209.2 L361.0 209.4 L362.0 209.6 L363.0 209.7 L364.0 209.8 L365.0 210.0 L366.0 210.1 L367.0 210.2 L368.0 210.3 L369.0 210.4 L370.0 210.5 L371.0 210.7 L372.0 210.8 L373.0 210.9 L374.0 210.9 L375.0 211.0 L376.0 211.1 L377.0 211.2 L378.0 211.3 L379.0 211.4 L380.0 211.5 L381.0 211.5 L382.0 211.6 L383.0 211.7" fill="none" stroke="#703a3a" stroke-width="2.3" stroke-linejoin="round"/></g>
<rect x="57.0" y="6.0" width="326.0" height="211.0" fill="none" stroke="#000" stroke-width="2"/>
<rect x="57.0" y="265.5" width="326.0" height="210.5" fill="none" stroke="#000" stroke-width="2"/>
<path d="M57.00 217.0 V221.0 M57.00 6.0 V10.0 M97.75 217.0 V219.5 M97.75 6.0 V8.5 M138.50 217.0 V221.0 M138.50 6.0 V10.0 M179.25 217.0 V219.5 M179.25 6.0 V8.5 M220.00 217.0 V221.0 M220.00 6.0 V10.0 M260.75 217.0 V219.5 M260.75 6.0 V8.5 M301.50 217.0 V221.0 M301.50 6.0 V10.0 M342.25 217.0 V219.5 M342.25 6.0 V8.5 M383.00 217.0 V221.0 M383.00 6.0 V10.0 M57.0 217.00 H60.0 M383.0 217.00 H380.0 M57.0 190.62 H58.2 M383.0 190.62 H381.8 M57.0 164.25 H60.0 M383.0 164.25 H380.0 M57.0 137.88 H58.2 M383.0 137.88 H381.8 M57.0 111.50 H60.0 M383.0 111.50 H380.0 M57.0 85.12 H58.2 M383.0 85.12 H381.8 M57.0 58.75 H60.0 M383.0 58.75 H380.0 M57.0 32.38 H58.2 M383.0 32.38 H381.8 M57.0 6.00 H60.0 M383.0 6.00 H380.0 M56.60 476.0 V480.0 M56.60 265.5 V269.5 M79.30 476.0 V478.5 M79.30 265.5 V268.0 M102.00 476.0 V480.0 M102.00 265.5 V269.5 M124.70 476.0 V478.5 M124.70 265.5 V268.0 M147.40 476.0 V480.0 M147.40 265.5 V269.5 M170.10 476.0 V478.5 M170.10 265.5 V268.0 M192.80 476.0 V480.0 M192.80 265.5 V269.5 M215.50 476.0 V478.5 M215.50 265.5 V268.0 M238.20 476.0 V480.0 M238.20 265.5 V269.5 M260.90 476.0 V478.5 M260.90 265.5 V268.0 M283.60 476.0 V480.0 M283.60 265.5 V269.5 M306.30 476.0 V478.5 M306.30 265.5 V268.0 M329.00 476.0 V480.0 M329.00 265.5 V269.5 M351.70 476.0 V478.5 M351.70 265.5 V268.0 M374.40 476.0 V480.0 M374.40 265.5 V269.5 M57.0 476.00 H52.5 M383.0 476.00 H378.5 M57.0 449.69 H54.5 M383.0 449.69 H380.5 M57.0 423.37 H52.5 M383.0 423.37 H378.5 M57.0 397.06 H54.5 M383.0 397.06 H380.5 M57.0 370.75 H52.5 M383.0 370.75 H378.5 M57.0 344.44 H54.5 M383.0 344.44 H380.5 M57.0 318.13 H52.5 M383.0 318.13 H378.5 M57.0 291.81 H54.5 M383.0 291.81 H380.5 M57.0 265.50 H52.5 M383.0 265.50 H378.5" stroke="#000" stroke-width="2" fill="none"/>
<text x="53" y="222.20" font-size="16" text-anchor="end">0.0</text>
<text x="53" y="169.45" font-size="16" text-anchor="end">0.5</text>
<text x="53" y="116.70" font-size="16" text-anchor="end">1.0</text>
<text x="53" y="63.95" font-size="16" text-anchor="end">1.5</text>
<text x="53" y="11.20" font-size="16" text-anchor="end">2.0</text>
<text x="57.00" y="237" font-size="16" text-anchor="middle">-1.0</text>
<text x="138.50" y="237" font-size="16" text-anchor="middle">-0.5</text>
<text x="220.00" y="237" font-size="16" text-anchor="middle">0.0</text>
<text x="301.50" y="237" font-size="16" text-anchor="middle">0.5</text>
<text x="383.00" y="237" font-size="16" text-anchor="middle">1.0</text>
<text transform="translate(23.4,106.6) rotate(-90)" font-size="16" text-anchor="middle">Intensity (a.u.)</text>
<g transform="translate(193.3,254.3)"><path d="M0 1.6 C1 2.6 2.6 1.7 3.3 -0.2 L5.5 -7.8 C6.3 -10.6 8 -12.6 10.4 -11.3" fill="none" stroke="#000" stroke-width="1.25" stroke-linecap="round"/><path d="M4.7 -7.3 H8.5" stroke="#000" stroke-width="0.9"/><circle cx="0.5" cy="1.7" r="0.85" fill="#000"/><circle cx="10.2" cy="-11.1" r="0.9" fill="#000"/></g><text x="209" y="254" font-size="16">(GHz)</text>
<text x="-1" y="18.1" font-size="16">(a)</text>
<path d="M312.6 16.40 H329.5" stroke="#703a3a" stroke-width="2.2"/>
<text x="335.5" y="20.80" font-size="13.5"><tspan font-style="italic">P</tspan>: 8 bar</text>
<path d="M312.6 32.90 H329.5" stroke="#000000" stroke-width="2.2"/>
<text x="335.5" y="37.30" font-size="13.5"><tspan font-style="italic">P</tspan>: 7 bar</text>
<path d="M312.6 49.40 H329.5" stroke="#ff0000" stroke-width="2.2"/>
<text x="335.5" y="53.80" font-size="13.5"><tspan font-style="italic">P</tspan>: 6 bar</text>
<path d="M312.6 65.90 H329.5" stroke="#0000ff" stroke-width="2.2"/>
<text x="335.5" y="70.30" font-size="13.5"><tspan font-style="italic">P</tspan>: 5 bar</text>
<path d="M312.6 82.40 H329.5" stroke="#ff00ff" stroke-width="2.2"/>
<text x="335.5" y="86.80" font-size="13.5"><tspan font-style="italic">P</tspan>: 4 bar</text>
<path d="M312.6 98.90 H329.5" stroke="#00ff00" stroke-width="2.2"/>
<text x="335.5" y="103.30" font-size="13.5"><tspan font-style="italic">P</tspan>: 3 bar</text>
<path d="M312.6 115.40 H329.5" stroke="#00ffff" stroke-width="2.2"/>
<text x="335.5" y="119.80" font-size="13.5"><tspan font-style="italic">P</tspan>: 2 bar</text>
<path d="M312.6 131.90 H329.5" stroke="#ff7f00" stroke-width="2.2"/>
<text x="335.5" y="136.30" font-size="13.5"><tspan font-style="italic">P</tspan>: 1 bar</text>
<text x="48.8" y="481.20" font-size="16" text-anchor="end">0.44</text>
<text x="48.8" y="428.57" font-size="16" text-anchor="end">0.45</text>
<text x="48.8" y="375.95" font-size="16" text-anchor="end">0.46</text>
<text x="48.8" y="323.33" font-size="16" text-anchor="end">0.47</text>
<text x="48.8" y="270.70" font-size="16" text-anchor="end">0.48</text>
<text x="56.60" y="493.8" font-size="14" text-anchor="middle">1</text>
<text x="102.00" y="493.8" font-size="14" text-anchor="middle">2</text>
<text x="147.40" y="493.8" font-size="14" text-anchor="middle">3</text>
<text x="192.80" y="493.8" font-size="14" text-anchor="middle">4</text>
<text x="238.20" y="493.8" font-size="14" text-anchor="middle">5</text>
<text x="283.60" y="493.8" font-size="14" text-anchor="middle">6</text>
<text x="329.00" y="493.8" font-size="14" text-anchor="middle">7</text>
<text x="374.40" y="493.8" font-size="14" text-anchor="middle">8</text>
<text x="199.5" y="510" font-size="16"><tspan font-style="italic">P</tspan> (bar)</text>
<g transform="translate(18.6,401.4) rotate(-90)"><path d="M0 1.6 C1 2.6 2.6 1.7 3.3 -0.2 L5.5 -7.8 C6.3 -10.6 8 -12.6 10.4 -11.3" fill="none" stroke="#000" stroke-width="1.25" stroke-linecap="round"/><path d="M4.7 -7.3 H8.5" stroke="#000" stroke-width="0.9"/><circle cx="0.5" cy="1.7" r="0.85" fill="#000"/><circle cx="10.2" cy="-11.1" r="0.9" fill="#000"/><text x="8" y="3.5" font-size="9.5">B</text><text x="18.5" y="0" font-size="16">(GHz)</text></g>
<text x="0.2" y="260.3" font-size="16">(b)</text>
<path d="M60.5 275.2 L107.0 275.4 L151.2 276.0 L193.6 276.9 L238.8 272.2 L283.8 272.0 L328.8 271.6 L374.4 271.3" fill="none" stroke="#808080" stroke-width="2.2" stroke-dasharray="11.2 11.6" stroke-dashoffset="-8"/>
<path d="M60.5 429.2 L107.4 356.0 L151.2 330.4 L193.6 320.2 L238.8 306.7 L283.8 301.7 L328.8 296.7 L374.4 293.0" fill="none" stroke="#0000ff" stroke-width="2.2"/>
<path d="M57.3 431.59999999999997 L60.5 426.2 L63.7 431.59999999999997 Z" fill="#0000ff"/>
<path d="M104.2 358.4 L107.4 353.0 L110.60000000000001 358.4 Z" fill="#0000ff"/>
<path d="M148.0 332.79999999999995 L151.2 327.4 L154.39999999999998 332.79999999999995 Z" fill="#0000ff"/>
<path d="M190.4 322.59999999999997 L193.6 317.2 L196.79999999999998 322.59999999999997 Z" fill="#0000ff"/>
<path d="M235.60000000000002 309.09999999999997 L238.8 303.7 L242.0 309.09999999999997 Z" fill="#0000ff"/>
<path d="M280.6 304.09999999999997 L283.8 298.7 L287.0 304.09999999999997 Z" fill="#0000ff"/>
<path d="M325.6 299.09999999999997 L328.8 293.7 L332.0 299.09999999999997 Z" fill="#0000ff"/>
<path d="M371.2 295.4 L374.4 290.0 L377.59999999999997 295.4 Z" fill="#0000ff"/>
<path d="M60.3 441.9 L106.9 344.8 L151.2 330.4 L193.6 313.8 L238.8 298.8 L283.8 292.8 L328.8 289.8 L374.4 284.8" fill="none" stroke="#ff0000" stroke-width="2.2"/>
<path d="M60.3 432.7 V450.3 M57.3 432.7 H63.3 M57.3 450.3 H63.3" stroke="#ff0000" stroke-width="2" fill="none"/>
<circle cx="60.3" cy="441.9" r="2.5" fill="#ff0000"/>
<path d="M106.9 336.9 V352.9 M103.9 336.9 H109.9 M103.9 352.9 H109.9" stroke="#ff0000" stroke-width="2" fill="none"/>
<circle cx="106.9" cy="344.8" r="2.5" fill="#ff0000"/>
<path d="M151.2 322.2 V339.5 M148.2 322.2 H154.2 M148.2 339.5 H154.2" stroke="#ff0000" stroke-width="2" fill="none"/>
<circle cx="151.2" cy="330.4" r="2.5" fill="#ff0000"/>
<path d="M193.6 310.1 V320.2 M190.6 310.1 H196.6 M190.6 320.2 H196.6" stroke="#ff0000" stroke-width="2" fill="none"/>
<circle cx="193.6" cy="313.8" r="2.5" fill="#ff0000"/>
<path d="M238.8 294.2 V304.2 M235.8 294.2 H241.8 M235.8 304.2 H241.8" stroke="#ff0000" stroke-width="2" fill="none"/>
<circle cx="238.8" cy="298.8" r="2.5" fill="#ff0000"/>
<path d="M283.8 287.0 V298.9 M280.8 287.0 H286.8 M280.8 298.9 H286.8" stroke="#ff0000" stroke-width="2" fill="none"/>
<circle cx="283.8" cy="292.8" r="2.5" fill="#ff0000"/>
<path d="M328.8 284.8 V294.9 M325.8 284.8 H331.8 M325.8 294.9 H331.8" stroke="#ff0000" stroke-width="2" fill="none"/>
<circle cx="328.8" cy="289.8" r="2.5" fill="#ff0000"/>
<path d="M374.4 279.5 V290.2 M371.4 279.5 H377.4 M371.4 290.2 H377.4" stroke="#ff0000" stroke-width="2" fill="none"/>
<circle cx="374.4" cy="284.8" r="2.5" fill="#ff0000"/>
<path d="M207.3 386 H245.5" stroke="#ff0000" stroke-width="2.2"/><circle cx="226.3" cy="386" r="2.4" fill="#ff0000"/>
<path d="M207.3 406.3 H245.5" stroke="#0000ff" stroke-width="2.2"/><path d="M223.1 408.5 L226.3 402.6 L229.5 408.5 Z" fill="#0000ff"/>
<path d="M207.3 425.8 H219.2 M230.2 425.8 H241.6" stroke="#808080" stroke-width="2.2"/>
<text x="249.2" y="391.8" font-size="16">Experimental value</text>
<text x="249.2" y="412" font-size="16">Anharmonic value</text>
<text x="249.2" y="431.6" font-size="16">Harmonic limit</text>
</svg>
</body></html>
